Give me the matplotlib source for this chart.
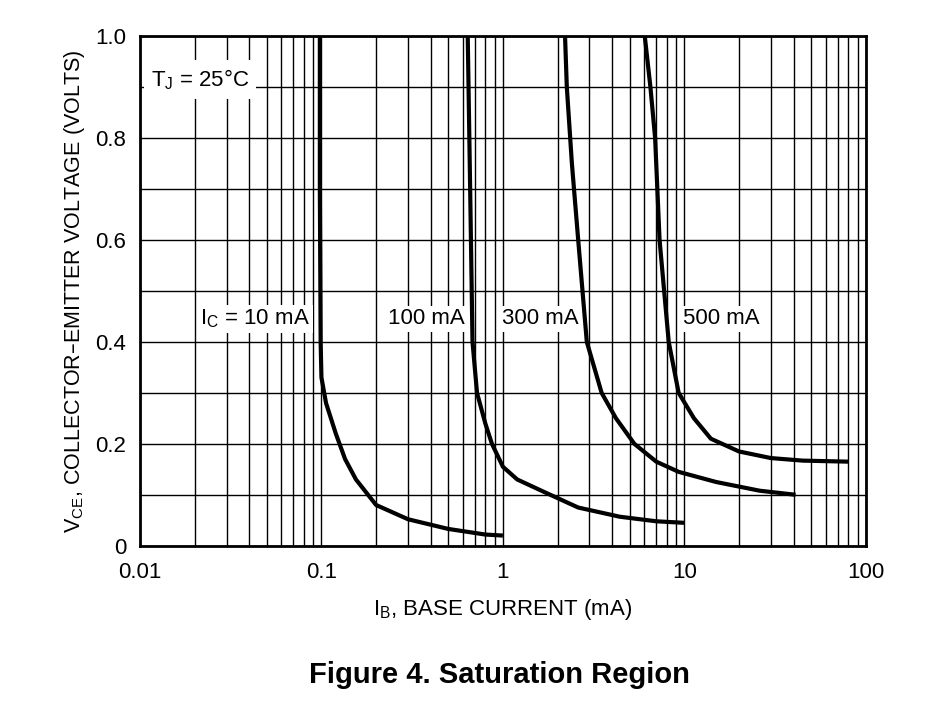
import matplotlib
matplotlib.use("Agg")
import matplotlib.pyplot as plt
from matplotlib.ticker import FixedLocator, LogLocator, NullFormatter

ic10_x = [0.098, 0.098, 0.099, 0.1, 0.106, 0.12, 0.135, 0.155, 0.2, 0.3, 0.5, 0.8, 1.0]
ic10_y = [1.0, 0.7, 0.4, 0.33, 0.28, 0.22, 0.17, 0.13, 0.08, 0.052, 0.033, 0.022, 0.02]
ic100_x = [0.64, 0.66, 0.68, 0.72, 0.8, 0.87, 1.0, 1.2, 1.7, 2.6, 4.4, 7.0, 10.0]
ic100_y = [1.0, 0.7, 0.4, 0.3, 0.24, 0.2, 0.155, 0.13, 0.105, 0.075, 0.057, 0.048, 0.045]
ic300_x = [2.2, 2.25, 2.4, 2.6, 2.9, 3.5, 4.2, 5.3, 7.0, 9.3, 15, 26, 41]
ic300_y = [1.0, 0.9, 0.75, 0.6, 0.4, 0.3, 0.25, 0.2, 0.165, 0.145, 0.125, 0.108, 0.1]
ic500_x = [6.05, 6.5, 6.9, 7.3, 8.2, 9.3, 11.3, 14, 20, 30, 45, 80]
ic500_y = [1.0, 0.9, 0.8, 0.6, 0.4, 0.3, 0.25, 0.21, 0.185, 0.172, 0.167, 0.165]
labels = ["$\\mathregular{I_C}$ = 10 mA", "100 mA", "300 mA", "500 mA"]

plt.rcParams['font.family'] = ['Liberation Sans', 'DejaVu Sans']
fig = plt.figure(figsize=(9.27, 7.2), dpi=100)
ax = fig.add_axes([0.151, 0.242, 0.783, 0.708])
ax.set_xscale('log')
ax.set_xlim(0.01, 100)
ax.set_ylim(0, 1.0)
ax.xaxis.set_minor_locator(LogLocator(base=10, subs=range(2, 10), numticks=50))
ax.xaxis.set_minor_formatter(NullFormatter())
ax.set_xticks([0.01, 0.1, 1, 10, 100])
ax.set_xticklabels(['0.01', '0.1', '1', '10', '100'])
ax.yaxis.set_major_locator(FixedLocator([0, 0.2, 0.4, 0.6, 0.8, 1.0]))
ax.yaxis.set_minor_locator(FixedLocator([0.1, 0.3, 0.5, 0.7, 0.9]))
ax.set_yticklabels(['0', '0.2', '0.4', '0.6', '0.8', '1.0'])
ax.grid(which='both', color='black', linewidth=1.0)
ax.tick_params(which='both', length=0, labelsize=16)
ax.tick_params(axis='x', pad=12)
ax.tick_params(axis='y', pad=10)
for s in ax.spines.values():
    s.set_linewidth(2)
for x, y in [(ic10_x, ic10_y), (ic100_x, ic100_y), (ic300_x, ic300_y), (ic500_x, ic500_y)]:
    ax.plot(x, y, color='black', linewidth=3, solid_capstyle='butt')
box = dict(facecolor='white', edgecolor='none', pad=2)
ax.text(0.043, 0.445, labels[0], fontsize=16, ha='center', va='center', bbox=box)
ax.text(0.38, 0.445, labels[1], fontsize=16, ha='center', va='center', bbox=box)
ax.text(1.6, 0.445, labels[2], fontsize=16, ha='center', va='center', bbox=box)
ax.text(16, 0.445, labels[3], fontsize=16, ha='center', va='center', bbox=box)
ax.text(0.0215, 0.915, "$\\mathregular{T_J}$ = 25°C", fontsize=16, ha='center', va='center',
        bbox=dict(facecolor='white', edgecolor='none', pad=5))
ax.set_xlabel("$\\mathregular{I_B}$, BASE CURRENT (mA)", fontsize=16, labelpad=10)
ax.set_ylabel("$\\mathregular{V_{CE}}$, COLLECTOR–EMITTER VOLTAGE (VOLTS)", fontsize=15.5, labelpad=6)
fig.text(0.539, 0.063, "Figure 4. Saturation Region", fontsize=21, fontweight='bold',
         ha='center', va='center')
fig.savefig('out.png', dpi=100)
